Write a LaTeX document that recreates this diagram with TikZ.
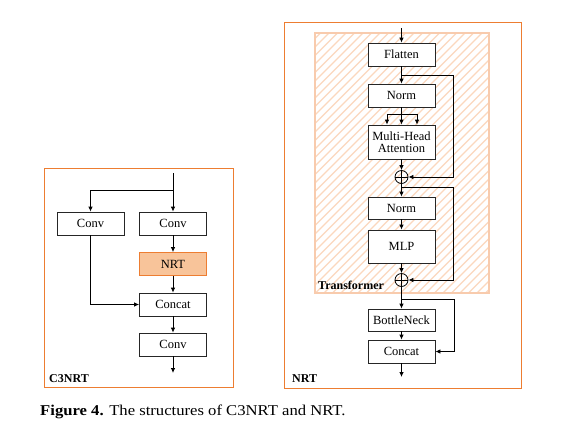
\documentclass[tikz,border=0pt]{standalone}
\usepackage{fontspec}
\setmainfont{Liberation Serif}
\usetikzlibrary{arrows.meta}
\definecolor{frameor}{HTML}{ED7D31}
\definecolor{nrtfill}{HTML}{F8C49A}
\definecolor{hatchor}{HTML}{FBD8BE}
\definecolor{hatchframe}{HTML}{F8CBAD}
\tikzset{
  blk/.style={draw=black!85, line width=0.8pt, minimum width=67pt, minimum height=23pt, inner sep=1pt, font=\fontsize{12.5}{13}\selectfont, align=center},
  arr/.style={-{Latex[length=5pt,width=4.5pt]}, line width=0.8pt},
  ln/.style={line width=0.8pt},
  addop/.style={draw, circle, line width=0.8pt, minimum size=13pt, inner sep=0pt},
  lbl/.style={font=\bfseries\fontsize{12}{12}\selectfont, anchor=base west, inner sep=0pt},
  frame/.style={draw=frameor, line width=1pt}
}
\begin{document}
\begin{tikzpicture}[x=1pt,y=-1pt]
\useasboundingbox (0,0) rectangle (569,429);
\fill[white] (0,0) rectangle (569,429);
% frames
\draw[frame] (44,168) rectangle (233,387);
\draw[frame] (284,22) rectangle (521,388);
% transformer hatched region
\begin{scope}
\clip (315,33) rectangle (489,293);
\foreach \i in {0,...,60}{
  \draw[hatchor, line width=1.2pt] (315+\i*8.5-280, 293) -- (315+\i*8.5, 13);
}
\end{scope}
\draw[hatchframe, line width=1.2pt] (315,33) rectangle (489,293);

% ---------- C3NRT ----------
\node[blk] (conv1) at (90.5,223.5) {Conv};
\node[blk] (conv2) at (173,223.5) {Conv};
\node[blk, fill=nrtfill, draw=frameor] (nrt) at (173,264) {NRT};
\node[blk] (concatL) at (173,304.5) {Concat};
\node[blk] (conv3) at (173,344.5) {Conv};
\coordinate (inL) at (173,173);
\coordinate (splitL) at (173,190);
\coordinate (outL) at (173,373);
\draw[arr] (inL) -- (conv2);
\draw[arr] (splitL) -| (conv1);
\draw[arr] (conv2) -- (nrt);
\draw[arr] (nrt) -- (concatL);
\draw[arr] (conv1.south) |- (concatL.west);
\draw[arr] (concatL) -- (conv3);
\draw[arr] (conv3) -- (outL);
\node[lbl] (c3lbl) at (49,382) {C3NRT};

% ---------- NRT ----------
\node[blk, fill=white] (flatten) at (401.5,54.5) {Flatten};
\node[blk, fill=white] (norm1) at (401.5,95.5) {Norm};
\node[blk, fill=white, minimum height=34pt] (mha) at (401.5,142) {Multi-Head\\[-1pt]Attention};
\node[addop] (plus1) at (401.5,177) {};
\node[blk, fill=white, minimum height=22pt] (norm2) at (401.5,208) {Norm};
\node[blk, fill=white, minimum height=33pt] (mlp) at (401.5,246.5) {MLP};
\node[addop] (plus2) at (401.5,280) {};
\node[blk, fill=white, minimum height=22pt] (bneck) at (401.5,320) {BottleNeck};
\node[blk, fill=white] (concatR) at (401.5,351.5) {Concat};
\draw[ln] (plus1.north) -- (plus1.south) (plus1.west) -- (plus1.east);
\draw[ln] (plus2.north) -- (plus2.south) (plus2.west) -- (plus2.east);

\coordinate (inR) at (401.5,28);
\coordinate (outR) at (401.5,377);
\coordinate (b1) at (401.5,75);
\coordinate (r1) at (453,75);
\coordinate (b2) at (401.5,187);
\coordinate (r2) at (453,187);
\coordinate (b3) at (401.5,299);
\coordinate (r3) at (454,299);
\coordinate (fan) at (401.5,114);
\coordinate (fanL) at (387,114);
\coordinate (fanR) at (417,114);

\draw[arr] (inR) -- (flatten);
\draw[arr] (flatten) -- (norm1);
\draw[ln] (b1) -- (r1);
\draw[arr] (r1) |- (plus1.east);
\draw[ln] (norm1.south) -- (fan);
\draw[ln] (fanL) -- (fanR);
\draw[arr] (fanL) -- (fanL |- mha.north);
\draw[arr] (fan) -- (mha.north);
\draw[arr] (fanR) -- (fanR |- mha.north);
\draw[arr] (mha) -- (plus1);
\draw[arr] (plus1) -- (norm2);
\draw[ln] (b2) -- (r2);
\draw[arr] (r2) |- (plus2.east);
\draw[arr] (norm2) -- (mlp);
\draw[arr] (mlp) -- (plus2);
\draw[arr] (plus2) -- (bneck);
\draw[ln] (b3) -- (r3);
\draw[arr] (r3) |- (concatR.east);
\draw[arr] (bneck) -- (concatR);
\draw[arr] (concatR) -- (outR);
\node[lbl] (tlbl) at (318,289) {Transformer};
\node[lbl] (nrtlbl) at (292,382) {NRT};

% caption
\node[anchor=base west, inner sep=0pt, font=\fontsize{15}{15}\selectfont] (cap) at (40,415) {\scalebox{1.11}[1]{\textbf{Figure 4.} The structures of C3NRT and NRT.}};
\end{tikzpicture}
\end{document}
